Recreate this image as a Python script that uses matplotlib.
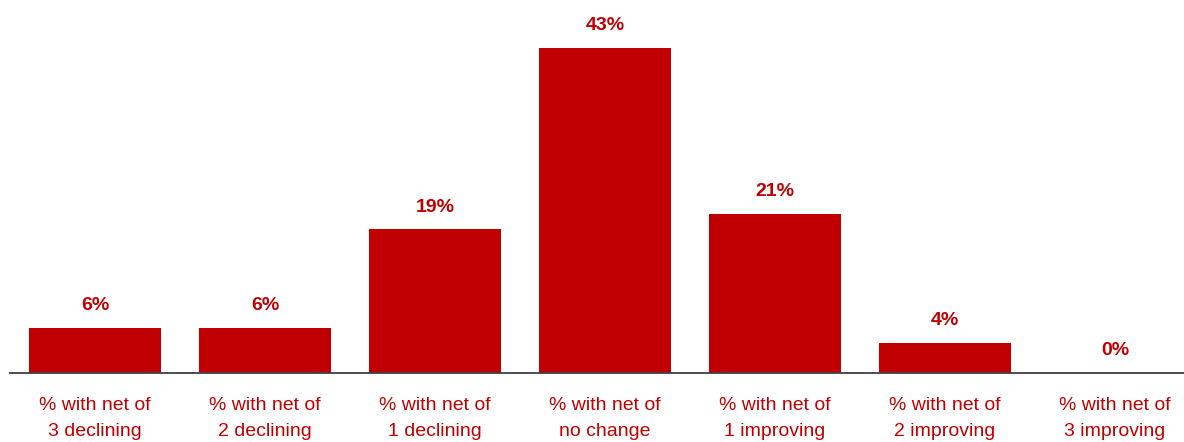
import matplotlib.pyplot as plt
from matplotlib import font_manager

categories = [
    "% with net of\n3 declining",
    "% with net of\n2 declining",
    "% with net of\n1 declining",
    "% with net of\nno change",
    "% with net of\n1 improving",
    "% with net of\n2 improving",
    "% with net of\n3 improving",
]
values = [6, 6, 19, 43, 21, 4, 0]
value_labels = ["6%", "6%", "19%", "43%", "21%", "4%", "0%"]

RED = "#C00000"

names = {f.name for f in font_manager.fontManager.ttflist}
family = "Liberation Sans Narrow" if "Liberation Sans Narrow" in names else "Liberation Sans"
plt.rcParams["font.family"] = [family, "DejaVu Sans"]

fig = plt.figure(figsize=(11.84, 4.42), dpi=100)
# axes run from x=10px to past the right edge, baseline at y=373px
ax = fig.add_axes([10 / 1184, (442 - 373) / 442, 1190 / 1184, 325 / 442])

x = range(len(values))
ax.bar(x, values, width=0.776, color=RED, zorder=2)

for xi, v, lab in zip(x, values, value_labels):
    ax.annotate(lab, (xi, v), xytext=(0, 10), textcoords="offset points",
                ha="center", va="bottom", color=RED, fontsize=14,
                fontweight="bold")

ax.set_xlim(-0.5, 6.5)
ax.set_ylim(0, 43)
ax.set_xticks(list(x))
ax.set_xticklabels(categories, color=RED, fontsize=14, linespacing=1.75)
ax.tick_params(axis="x", length=0, pad=17)
ax.set_yticks([])
for side in ("top", "right", "left"):
    ax.spines[side].set_visible(False)
ax.spines["bottom"].set_color("#404040")
ax.spines["bottom"].set_linewidth(1.3)

fig.savefig("out.png", dpi=100)
